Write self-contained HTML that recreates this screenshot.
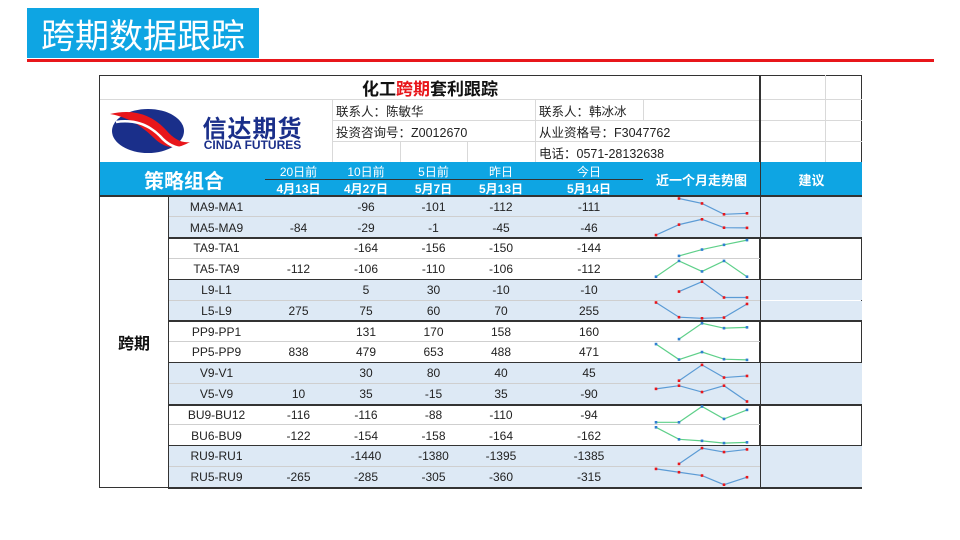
<!DOCTYPE html>
<html><head><meta charset="utf-8">
<style>
body{margin:0;width:960px;height:540px;background:#fff;position:relative;overflow:hidden;font-family:"Liberation Sans","Noto Sans CJK SC",sans-serif;}
.a{position:absolute;box-sizing:border-box;}
.c{display:flex;align-items:center;justify-content:center;white-space:nowrap;}
#svg{z-index:5;pointer-events:none;}
</style></head><body>
<div class="a c" style="left:27px;top:8px;width:232px;height:50px;background:#0ea5e3;color:#fff;font-size:34px;">跨期数据跟踪</div>
<div class="a" style="left:27px;top:59px;width:907px;height:3px;background:#e8161b;"></div>
<div id="tbl" class="a" style="left:99px;top:75px;width:763px;height:413px;border:1.5px solid #333;"></div>
<svg id="svg" class="a" style="left:0;top:0" width="960" height="540"></svg>
<script>
const names=["MA9-MA1","MA5-MA9","TA9-TA1","TA5-TA9","L9-L1","L5-L9","PP9-PP1","PP5-PP9","V9-V1","V5-V9","BU9-BU12","BU6-BU9","RU9-RU1","RU5-RU9"];
const v20=[null,-84,null,-112,null,275,null,838,null,10,-116,-122,null,-265];
const v10=[-96,-29,-164,-106,5,75,131,479,30,35,-116,-154,-1440,-285];
const v5=[-101,-1,-156,-110,30,60,170,653,80,-15,-88,-158,-1380,-305];
const vy=[-112,-45,-150,-106,-10,70,158,488,40,35,-110,-164,-1395,-360];
const vt=[-111,-46,-144,-112,-10,255,160,471,45,-90,-94,-162,-1385,-315];
const heads=["20日前","10日前","5日前","昨日","今日"];
const dates=["4月13日","4月27日","5月7日","5月13日","5月14日"];
const body=document.body;
function box(x,y,w,h,css,txt,name){const d=document.createElement('div');d.className='a c';d.style.cssText=`left:${x}px;top:${y}px;width:${w}px;height:${h}px;`+css;if(txt!=null)d.textContent=txt;


body.appendChild(d);return d;}
box(100,75,660,24,'font-size:17px;font-weight:bold;color:#111;','','table-title').innerHTML='化工<span style="color:#e8161b">跨期</span>套利跟踪';
const g='#d9d9d9';
box(100,99,660,1,'background:'+g,null,'grid-line');
box(332,120,428,1,'background:'+g,null,'grid-line');
box(332,141,428,1,'background:'+g,null,'grid-line');
box(332,99,1,63,'background:'+g,null,'grid-line');
box(535,99,1,63,'background:'+g,null,'grid-line');
box(643,99,1,21,'background:'+g,null,'grid-line');
box(400,141,1,21,'background:'+g,null,'grid-line');box(467,141,1,21,'background:'+g,null,'grid-line');
box(760,99,102,1,'background:'+g,null,'grid-line');box(760,120,102,1,'background:'+g,null,'grid-line');box(760,141,102,1,'background:'+g,null,'grid-line');
box(825,75,1,87,'background:'+g,null,'grid-line');
box(759,75,2,413,'background:#333',null,'advice-divider');
const inf=[[336,100,'联系人：陈敏华'],[336,121,'投资咨询号：Z0012670'],[539,100,'联系人：韩冰冰'],[539,121,'从业资格号：F3047762'],[539,142,'电话：0571-28132638']];
inf.forEach(t=>box(t[0],t[1],200,20,'justify-content:flex-start;font-size:12.5px;color:#222;',t[2],'contact-info'));
const lg=box(104,102,225,58,'',null,'cinda-logo');
lg.innerHTML='<svg width="225" height="58"><ellipse cx="44" cy="29" rx="36" ry="22" fill="#1a2f8a"/><path d="M6 12 Q40 4 62 28 Q74 42 86 40 Q66 52 50 36 Q30 16 6 12Z" fill="#e8161b"/><path d="M12 20 Q38 16 56 34 Q68 48 84 46" stroke="#fff" stroke-width="2.5" fill="none"/></svg>';
box(190,113,125,26,'font-size:24px;font-weight:bold;color:#1a2f8a;letter-spacing:1px;','信达期货','logo-cn');
box(190,138,125,14,'font-size:12px;font-weight:bold;color:#1a2f8a;','CINDA FUTURES','logo-en');
box(100,162,660,34,'background:#0ea5e3',null,'header-band');
box(761,162,101,34,'background:#0ea5e3;color:#fff;font-size:13px;font-weight:bold;','建议','advice-header');
box(100,162,168,34,'color:#fff;font-size:20px;font-weight:bold;','策略组合','strategy-header');
box(643,162,117,34,'color:#fff;font-size:13px;font-weight:bold;','近一个月走势图','trend-header');
box(265,179,378,1,'background:#333',null,'header-underline');
const cx=[265,332,400,467,535],cw=[67,68,67,68,108];
heads.forEach((h,i)=>{box(cx[i],163,cw[i],16,'color:#fff;font-size:12px;',h,'col-head');box(cx[i],180,cw[i],16,'color:#fff;font-size:12px;font-weight:bold;',dates[i],'col-date');});
box(100,195,762,2,'background:#333',null,'header-bottom');
const rh=20.8,top0=196.5;
const cols=[v20,v10,v5,vy,vt];
const svg=document.getElementById('svg');const ns='http://www.w3.org/2000/svg';
const sx=[656,679,702,724,747];
for(let r=0;r<14;r++){
 const y=top0+r*rh,grp=Math.floor(r/2),blue=grp%2==0;
 if(blue){box(168,y,592,rh,'background:#dde9f5',null,'row-bg');box(761,y,101,rh,'background:#dde9f5',null,'advice-cell');}
 box(168,y,97,rh,'font-size:12px;color:#222;',names[r],'strategy-name');
 cols.forEach((c,i)=>{if(c[r]!=null)box(cx[i],y,cw[i],rh,'font-size:12px;color:#222;',String(c[r]),'value-cell');});
 if(r%2==0)box(168,y+rh-1,592,1,'background:#cfcfcf',null,'row-line');
 else box(168,y+rh-1,694,2,'background:#333',null,'group-border');
 const vals=cols.map(c=>c[r]);const nn=vals.filter(v=>v!=null);const mn=Math.min(...nn),mx=Math.max(...nn);
 const Y=v=>y+2+(mx-v)/(mx-mn||1)*(rh-5);
 const pts=[];vals.forEach((v,i)=>{if(v!=null)pts.push([sx[i],Y(v)]);});
 const pl=document.createElementNS(ns,'polyline');pl.setAttribute('points',pts.map(p=>p.join(',')).join(' '));
 pl.setAttribute('fill','none');pl.setAttribute('stroke',blue?'#5b9bd5':'#5fd08a');pl.setAttribute('stroke-width','1.2');
 
 
 svg.appendChild(pl);
 pts.forEach(p=>{const m=document.createElementNS(ns,'rect');m.setAttribute('x',p[0]-1.3);m.setAttribute('y',p[1]-1.3);m.setAttribute('width',2.6);m.setAttribute('height',2.6);m.setAttribute('fill',blue?'#e8161b':'#2f7fd0');
 
 
 svg.appendChild(m);});
}
box(168,196,1,292,'background:#333',null,'category-divider');
box(100,196,68,292,'font-size:16px;font-weight:bold;color:#111;','跨期','category-label');
</script>
</body></html>
